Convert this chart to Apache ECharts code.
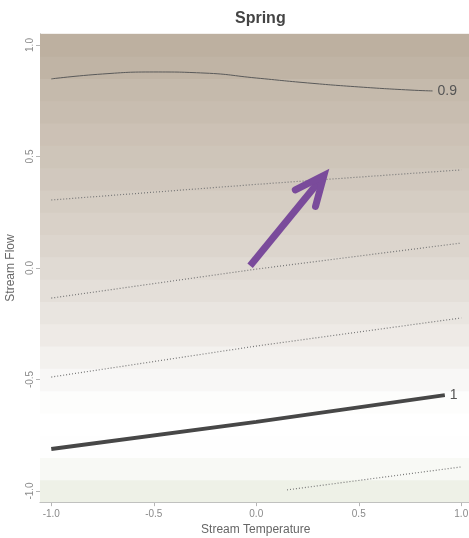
<!DOCTYPE html>
<html>
<head>
<meta charset="utf-8">
<script src="https://cdn.jsdelivr.net/npm/echarts@6/dist/echarts.min.js"></script>
<style>
  html, body { margin: 0; padding: 0; background: #ffffff; }
  #chart { width: 469px; height: 538px; }
</style>
</head>
<body>
<div id="chart"></div>
<script>
// Fitted response surface: horizontal bands of stream flow and the level in each band
const flowBands = [-1.0, -0.9, -0.8, -0.7, -0.6, -0.5, -0.4, -0.3, -0.2, -0.1, 0.0,
                   0.1, 0.2, 0.3, 0.4, 0.5, 0.6, 0.7, 0.8, 0.9, 1.0];
const bandLevel = [1.019, 1.008, 1.001, 1.000, 0.997, 0.989, 0.980, 0.971, 0.963, 0.955, 0.948,
                   0.941, 0.935, 0.929, 0.923, 0.918, 0.913, 0.907, 0.902, 0.894, 0.888];

// Contour lines: [stream temperature, stream flow]
const contour090 = [[-1, 0.848], [-0.75, 0.870], [-0.5, 0.879], [-0.25, 0.874], [0, 0.852],
                    [0.25, 0.830], [0.5, 0.812], [0.75, 0.798], [0.86, 0.794]];
const contour0925 = [[-1, 0.305], [0, 0.375], [1, 0.44]];
const contour095 = [[-1, -0.135], [0, -0.005], [1, 0.112]];
const contour0975 = [[-1, -0.489], [0, -0.35], [1, -0.224]];
const contour100 = [[-1, -0.812], [0, -0.69], [0.92, -0.57]];
const contour1025 = [[0.15, -0.995], [1, -0.892]];

// Direction of change
const trendFrom = [-0.03, 0.01];
const trendTo = [0.33, 0.415];

const tickValues = [-1, -0.5, 0, 0.5, 1];
const X_MIN = -1.055, X_MAX = 1.05, Y_MIN = -1.05, Y_MAX = 1.05;

const chart = echarts.init(document.getElementById('chart'), null, { renderer: 'canvas' });

const dotted = {
  type: 'line', showSymbol: false, silent: true, z: 3,
  lineStyle: { color: '#777777', width: 1.2, type: [1, 2] }
};

const option = {
  animation: false,
  title: {
    text: 'Spring', left: 230, top: 6,
    textStyle: { fontFamily: 'Liberation Sans', fontSize: 16, fontWeight: 'bold', color: '#444444' }
  },
  grid: {
    left: 40, top: 33.85, width: 431.5, height: 468.3,
    containLabel: false, outerBoundsMode: 'none'
  },
  xAxis: {
    type: 'value', min: X_MIN, max: X_MAX,
    name: 'Stream Temperature', nameLocation: 'middle', nameGap: 21,
    nameTextStyle: { fontFamily: 'Liberation Sans', fontSize: 12, color: '#666666' },
    axisLine: { show: true, onZero: false, lineStyle: { color: '#b5b5b5', width: 1 } },
    axisTick: { show: true, length: 4, customValues: tickValues, lineStyle: { color: '#b5b5b5' } },
    axisLabel: {
      customValues: tickValues, margin: 7, fontFamily: 'Liberation Sans', fontSize: 10, color: '#8a8a8a',
      formatter: v => v.toFixed(1)
    },
    splitLine: { show: false }
  },
  yAxis: {
    type: 'value', min: Y_MIN, max: Y_MAX,
    name: 'Stream Flow', nameLocation: 'middle', nameGap: 20,
    nameTextStyle: { fontFamily: 'Liberation Sans', fontSize: 12, color: '#666666' },
    axisLine: { show: true, onZero: false, lineStyle: { color: '#b5b5b5', width: 1 } },
    axisTick: { show: true, length: 4, customValues: tickValues, lineStyle: { color: '#b5b5b5' } },
    axisLabel: {
      customValues: tickValues, rotate: 90, margin: 5, fontFamily: 'Liberation Sans', fontSize: 10, color: '#8a8a8a',
      formatter: v => v.toFixed(1)
    },
    splitLine: { show: false }
  },
  visualMap: {
    show: false, type: 'continuous', seriesIndex: 0, dimension: 2,
    min: 0.88, max: 1.12,
    inRange: { color: ['#b8aa99', '#ffffff', '#96a567'] }
  },
  series: [
    {
      type: 'custom', silent: true, z: 1, clip: true,
      data: flowBands.map((y, i) => [0, y, bandLevel[i]]),
      renderItem: function (params, api) {
        const y = api.value(1);
        const p1 = api.coord([X_MIN, Math.min(y + 0.05, Y_MAX)]);
        const p2 = api.coord([X_MAX, Math.max(y - 0.05, Y_MIN)]);
        return {
          type: 'rect',
          shape: { x: p1[0], y: p1[1] - 0.5, width: p2[0] - p1[0], height: p2[1] - p1[1] + 1 },
          style: { fill: api.visual('color') }
        };
      }
    },
    {
      type: 'line', data: contour090, smooth: 0.5, showSymbol: false, silent: true, z: 3,
      lineStyle: { color: '#5a5a5a', width: 1 },
      endLabel: {
        show: true, formatter: '0.9', distance: 5,
        fontFamily: 'Liberation Sans', fontSize: 14, color: '#555555'
      }
    },
    Object.assign({ data: contour0925 }, dotted),
    Object.assign({ data: contour095 }, dotted),
    Object.assign({ data: contour0975 }, dotted),
    {
      type: 'line', data: contour100, showSymbol: false, silent: true, z: 3,
      lineStyle: { color: '#474747', width: 4 },
      endLabel: {
        show: true, formatter: '1', distance: 5,
        fontFamily: 'Liberation Sans', fontSize: 14, color: '#555555'
      }
    },
    Object.assign({ data: contour1025 }, dotted),
    {
      type: 'custom', silent: true, z: 5,
      data: [[trendFrom[0], trendFrom[1], trendTo[0], trendTo[1]]],
      renderItem: function (params, api) {
        const a = api.coord([api.value(0), api.value(1)]);
        const b = api.coord([api.value(2), api.value(3)]);
        const ang = Math.atan2(b[1] - a[1], b[0] - a[0]);
        const L = 32, spread = 0.42;
        const w1 = [b[0] - L * Math.cos(ang - spread), b[1] - L * Math.sin(ang - spread)];
        const w2 = [b[0] - L * Math.cos(ang + spread), b[1] - L * Math.sin(ang + spread)];
        const style = { stroke: '#7a4b9b', lineWidth: 7, fill: null, lineCap: 'round', lineJoin: 'miter' };
        return {
          type: 'group',
          children: [
            { type: 'polyline', shape: { points: [a, b] }, style: Object.assign({}, style, { lineCap: 'butt' }) },
            { type: 'polyline', shape: { points: [w1, b, w2] }, style: style }
          ]
        };
      }
    }
  ]
};

chart.setOption(option);
</script>
</body>
</html>
